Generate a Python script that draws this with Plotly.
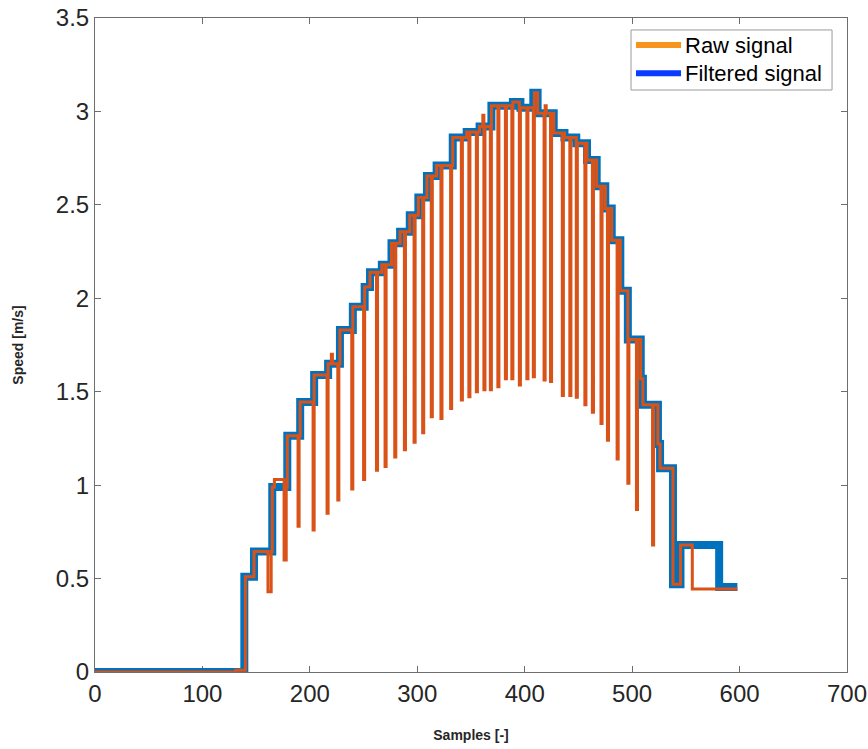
import plotly.graph_objects as go

# ---------------- data ----------------
end_sample = 598

# Filtered signal: staircase, step start sample and level
filt_start = [0, 139, 148, 165, 179, 191, 204, 217, 228, 240, 251, 256, 267, 276,
              284, 293, 301, 309, 318, 333, 346, 358, 369, 389, 396, 408, 412, 427,
              437, 448, 458, 467, 475, 481, 489, 496, 508, 510, 524, 526, 538, 545, 581]
filt_level = [0.0, 0.51, 0.645, 0.99, 1.265, 1.445, 1.59, 1.65, 1.83, 1.955, 2.06, 2.14,
              2.18, 2.295, 2.356, 2.445, 2.54, 2.655, 2.71, 2.86, 2.89, 2.92, 3.03, 3.05,
              3.02, 3.10, 2.99, 2.885, 2.86, 2.83, 2.74, 2.60, 2.48, 2.31, 2.04, 1.78,
              1.57, 1.43, 1.22, 1.09, 0.47, 0.68, 0.455]

# Raw signal: base staircase
raw_start = [0, 131, 140, 148, 165, 179, 191, 204, 217, 228, 240, 251, 256, 267, 276,
             284, 293, 301, 309, 318, 333, 346, 358, 369, 389, 396, 408, 412, 427, 437,
             448, 458, 467, 475, 481, 489, 496, 508, 510, 524, 526, 538, 545, 556]
raw_level = [0.0, 0.01, 0.51, 0.645, 0.99, 1.265, 1.445, 1.59, 1.65, 1.83, 1.955, 2.06,
             2.14, 2.18, 2.295, 2.356, 2.445, 2.54, 2.655, 2.71, 2.86, 2.89, 2.92, 3.03,
             3.05, 3.02, 3.10, 2.99, 2.885, 2.86, 2.83, 2.74, 2.60, 2.48, 2.31, 2.04,
             1.78, 1.57, 1.43, 1.22, 1.09, 0.47, 0.68, 0.444]

# Raw signal: dropouts (start sample, length in samples, value)
dip_start = [161, 176, 189, 203, 216, 226, 239, 250, 262, 270, 279, 288, 297, 305,
             313, 322, 331, 341, 348, 355, 362, 368, 375, 382, 388, 395, 402, 408,
             418, 424, 435, 442, 448, 456, 463, 471, 477, 486, 496, 504, 519]
dip_len = [3, 2, 1, 1, 1, 1, 1, 1, 1, 1, 1, 1, 1, 1, 1, 1, 1, 1, 1, 1, 1, 1, 1, 1,
           1, 1, 1, 1, 1, 1, 1, 1, 1, 1, 1, 1, 1, 1, 1, 1, 1]
dip_value = [0.43, 0.60, 0.78, 0.76, 0.85, 0.92, 0.98, 1.03, 1.08, 1.10, 1.15, 1.19,
             1.23, 1.28, 1.366, 1.357, 1.41, 1.456, 1.473, 1.50, 1.51, 1.51, 1.527,
             1.57, 1.57, 1.536, 1.57, 1.58, 1.563, 1.554, 1.48, 1.48, 1.47, 1.43,
             1.39, 1.33, 1.24, 1.14, 1.01, 0.87, 0.68]

# Raw signal: short overshoots
spike_start = [167, 220, 361, 419]
spike_len = [9, 1, 1, 1]
spike_value = [1.03, 1.70, 2.98, 3.03]

x_ticks = [0, 100, 200, 300, 400, 500, 600, 700]
y_ticks = [0, 0.5, 1, 1.5, 2, 2.5, 3, 3.5]

legend_names = ["Raw signal", "Filtered signal"]
legend_colors = ["#F7941D", "#0A3CFF"]

# ---------------- build raw sample table ----------------
samples = list(range(0, end_sample + 1))
raw = []
for s in samples:
    v = 0.0
    for st, lv in zip(raw_start, raw_level):
        if s >= st:
            v = lv
    for st, ln, lv in zip(spike_start, spike_len, spike_value):
        if st <= s < st + ln:
            v = lv
    for st, ln, lv in zip(dip_start, dip_len, dip_value):
        if st <= s < st + ln:
            v = lv
    raw.append(v)

fx = filt_start + [end_sample]
fy = filt_level + [filt_level[-1]]

BLUE = "#0072BD"
ORANGE = "#D95319"
FONT = "Liberation Sans, Arial, sans-serif"

fig = go.Figure()
fig.add_trace(go.Scatter(x=fx, y=fy, mode="lines", name="Filtered signal",
                         line=dict(color=BLUE, width=8, shape="hv"),
                         showlegend=False, cliponaxis=False, hoverinfo="skip"))
fig.add_trace(go.Scatter(x=samples, y=raw, mode="lines", name="Raw signal",
                         line=dict(color=ORANGE, width=3, shape="hv"),
                         showlegend=False, cliponaxis=False, hoverinfo="skip"))

# ---------------- legend box (MATLAB style) ----------------
L_X0, L_X1, L_Y0, L_Y1 = 0.7128, 0.9801, 0.8899, 0.9817
row_y = [0.9587, 0.9154]
fig.add_shape(type="rect", xref="paper", yref="paper", x0=L_X0, x1=L_X1, y0=L_Y0, y1=L_Y1,
              line=dict(color="#9a9a9a", width=1), fillcolor="white", layer="above")
for name, col, yy in zip(legend_names, legend_colors, row_y):
    fig.add_shape(type="line", xref="paper", yref="paper", x0=0.7194, x1=0.7793, y0=yy, y1=yy,
                  line=dict(color=col, width=6), layer="above")
    fig.add_annotation(xref="paper", yref="paper", x=0.7819, y=yy, text=name, showarrow=False,
                       xanchor="left", yanchor="middle",
                       font=dict(family=FONT, size=22, color="black"))

axis_common = dict(showline=True, linecolor="#6e6e6e", linewidth=1, mirror="ticks",
                   ticks="inside", ticklen=6, tickcolor="#6e6e6e", showgrid=False,
                   zeroline=False, layer="below traces", automargin=False,
                   tickfont=dict(family=FONT, size=24, color="#262626"))

fig.update_layout(
    width=868, height=749,
    margin=dict(l=95, r=21, t=18, b=77),
    paper_bgcolor="white", plot_bgcolor="white",
    showlegend=False,
    xaxis=dict(range=[0, 700], tickvals=x_ticks, ticktext=[str(t) for t in x_ticks],
               title=dict(text="Samples [-]", standoff=24,
                          font=dict(family=FONT, size=14, color="#262626", weight="bold")),
               **axis_common),
    yaxis=dict(range=[0, 3.5], tickvals=y_ticks, ticktext=[f"{t:g}" for t in y_ticks],
               title=dict(text="Speed [m/s]", standoff=28,
                          font=dict(family=FONT, size=14, color="#262626", weight="bold")),
               **axis_common),
)

fig.write_html("out.html")
